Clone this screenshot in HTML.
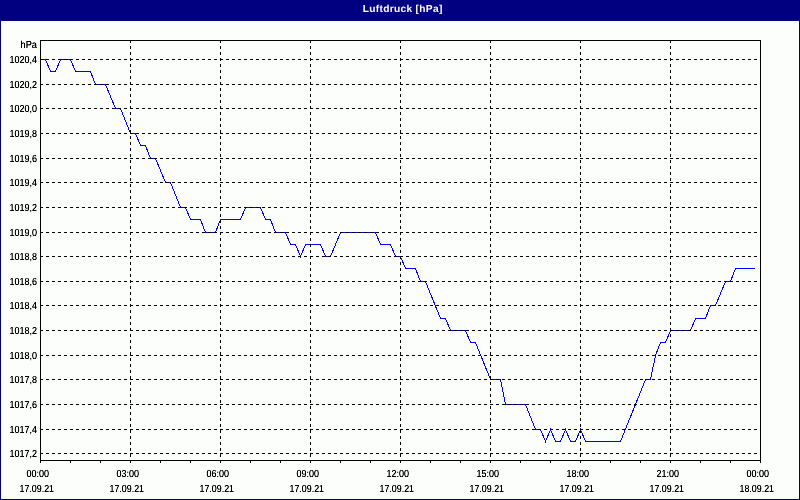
<!DOCTYPE html>
<html><head><meta charset="utf-8"><style>
html,body{margin:0;padding:0;background:#fff;}
svg{display:block;will-change:transform;}
text{text-rendering:geometricPrecision;font-family:"Liberation Sans",sans-serif;font-size:10.2px;fill:#000;stroke:none;}
</style></head><body>
<svg width="800" height="500" viewBox="0 0 800 500">
<rect x="0" y="0" width="800" height="500" fill="#000080"/>
<rect x="1" y="21" width="798" height="478" fill="#fcfefc"/>

<g shape-rendering="crispEdges">
<polyline points="40.5,59.5 45.5,59.5 50.5,71.5 55.5,71.5 60.5,59.5 70.5,59.5 75.5,71.5 90.5,71.5 95.5,84.5 105.5,84.5 115.5,108.5 120.5,108.5 130.5,133.5 135.5,133.5 140.5,145.5 145.5,145.5 150.5,158.5 155.5,158.5 165.5,182.5 170.5,182.5 180.5,207.5 185.5,207.5 190.5,219.5 200.5,219.5 205.5,232.5 215.5,232.5 220.5,219.5 240.5,219.5 245.5,207.5 260.5,207.5 265.5,219.5 270.5,219.5 275.5,232.5 285.5,232.5 290.5,244.5 295.5,244.5 300.5,256.5 305.5,244.5 320.5,244.5 325.5,256.5 330.5,256.5 340.5,232.5 375.5,232.5 380.5,244.5 390.5,244.5 395.5,256.5 400.5,256.5 405.5,268.5 415.5,268.5 420.5,281.5 425.5,281.5 440.5,318.5 445.5,318.5 450.5,330.5 465.5,330.5 470.5,342.5 475.5,342.5 490.5,379.5 500.5,379.5 505.5,404.5 525.5,404.5 535.5,429.5 540.5,429.5 545.5,441.5 550.5,429.5 555.5,441.5 560.5,441.5 565.5,429.5 570.5,441.5 575.5,441.5 580.5,429.5 585.5,441.5 620.5,441.5 645.5,379.5 650.5,379.5 655.5,355.5 660.5,342.5 665.5,342.5 670.5,330.5 690.5,330.5 695.5,318.5 705.5,318.5 710.5,305.5 715.5,305.5 725.5,281.5 730.5,281.5 735.5,268.5 755,268.5" fill="none" stroke="#0000ff" stroke-width="1"/>
<g stroke="#000" stroke-width="1" stroke-dasharray="3 3"><line x1="40" y1="59.5" x2="760" y2="59.5"/><line x1="40" y1="84.5" x2="760" y2="84.5"/><line x1="40" y1="108.5" x2="760" y2="108.5"/><line x1="40" y1="133.5" x2="760" y2="133.5"/><line x1="40" y1="158.5" x2="760" y2="158.5"/><line x1="40" y1="182.5" x2="760" y2="182.5"/><line x1="40" y1="207.5" x2="760" y2="207.5"/><line x1="40" y1="232.5" x2="760" y2="232.5"/><line x1="40" y1="256.5" x2="760" y2="256.5"/><line x1="40" y1="281.5" x2="760" y2="281.5"/><line x1="40" y1="305.5" x2="760" y2="305.5"/><line x1="40" y1="330.5" x2="760" y2="330.5"/><line x1="40" y1="355.5" x2="760" y2="355.5"/><line x1="40" y1="379.5" x2="760" y2="379.5"/><line x1="40" y1="404.5" x2="760" y2="404.5"/><line x1="40" y1="429.5" x2="760" y2="429.5"/><line x1="40" y1="453.5" x2="760" y2="453.5"/><line x1="130.5" y1="40" x2="130.5" y2="460"/><line x1="220.5" y1="40" x2="220.5" y2="460"/><line x1="310.5" y1="40" x2="310.5" y2="460"/><line x1="400.5" y1="40" x2="400.5" y2="460"/><line x1="490.5" y1="40" x2="490.5" y2="460"/><line x1="580.5" y1="40" x2="580.5" y2="460"/><line x1="670.5" y1="40" x2="670.5" y2="460"/></g>
<rect x="40.5" y="40.5" width="720" height="420" fill="none" stroke="#000" stroke-width="1"/>
<g stroke="#000" stroke-width="1"><line x1="40.5" y1="460" x2="40.5" y2="463"/><line x1="70.5" y1="460" x2="70.5" y2="463"/><line x1="100.5" y1="460" x2="100.5" y2="463"/><line x1="130.5" y1="460" x2="130.5" y2="463"/><line x1="160.5" y1="460" x2="160.5" y2="463"/><line x1="190.5" y1="460" x2="190.5" y2="463"/><line x1="220.5" y1="460" x2="220.5" y2="463"/><line x1="250.5" y1="460" x2="250.5" y2="463"/><line x1="280.5" y1="460" x2="280.5" y2="463"/><line x1="310.5" y1="460" x2="310.5" y2="463"/><line x1="340.5" y1="460" x2="340.5" y2="463"/><line x1="370.5" y1="460" x2="370.5" y2="463"/><line x1="400.5" y1="460" x2="400.5" y2="463"/><line x1="430.5" y1="460" x2="430.5" y2="463"/><line x1="460.5" y1="460" x2="460.5" y2="463"/><line x1="490.5" y1="460" x2="490.5" y2="463"/><line x1="520.5" y1="460" x2="520.5" y2="463"/><line x1="550.5" y1="460" x2="550.5" y2="463"/><line x1="580.5" y1="460" x2="580.5" y2="463"/><line x1="610.5" y1="460" x2="610.5" y2="463"/><line x1="640.5" y1="460" x2="640.5" y2="463"/><line x1="670.5" y1="460" x2="670.5" y2="463"/><line x1="700.5" y1="460" x2="700.5" y2="463"/><line x1="730.5" y1="460" x2="730.5" y2="463"/><line x1="760.5" y1="460" x2="760.5" y2="463"/></g>
</g>
<defs><filter id="cr" filterUnits="userSpaceOnUse" x="0" y="0" width="800" height="500" color-interpolation-filters="sRGB"><feComponentTransfer><feFuncA type="linear" slope="1.4" intercept="0"/></feComponentTransfer></filter></defs>
<text x="362.8" y="12" textLength="79.5" lengthAdjust="spacing" style="font-weight:bold;font-size:10.2px;fill:#fff;stroke:none">Luftdruck [hPa]</text>
<g filter="url(#cr)">

<text x="20.5" y="48" textLength="16.5" lengthAdjust="spacingAndGlyphs">hPa</text>
<text x="9.5" y="63" textLength="27.5" lengthAdjust="spacingAndGlyphs">1020,4</text><text x="9.5" y="88" textLength="27.5" lengthAdjust="spacingAndGlyphs">1020,2</text><text x="9.5" y="112" textLength="27.5" lengthAdjust="spacingAndGlyphs">1020,0</text><text x="9.5" y="137" textLength="27.5" lengthAdjust="spacingAndGlyphs">1019,8</text><text x="9.5" y="162" textLength="27.5" lengthAdjust="spacingAndGlyphs">1019,6</text><text x="9.5" y="186" textLength="27.5" lengthAdjust="spacingAndGlyphs">1019,4</text><text x="9.5" y="211" textLength="27.5" lengthAdjust="spacingAndGlyphs">1019,2</text><text x="9.5" y="236" textLength="27.5" lengthAdjust="spacingAndGlyphs">1019,0</text><text x="9.5" y="260" textLength="27.5" lengthAdjust="spacingAndGlyphs">1018,8</text><text x="9.5" y="285" textLength="27.5" lengthAdjust="spacingAndGlyphs">1018,6</text><text x="9.5" y="309" textLength="27.5" lengthAdjust="spacingAndGlyphs">1018,4</text><text x="9.5" y="334" textLength="27.5" lengthAdjust="spacingAndGlyphs">1018,2</text><text x="9.5" y="359" textLength="27.5" lengthAdjust="spacingAndGlyphs">1018,0</text><text x="9.5" y="383" textLength="27.5" lengthAdjust="spacingAndGlyphs">1017,8</text><text x="9.5" y="408" textLength="27.5" lengthAdjust="spacingAndGlyphs">1017,6</text><text x="9.5" y="433" textLength="27.5" lengthAdjust="spacingAndGlyphs">1017,4</text><text x="9.5" y="457" textLength="27.5" lengthAdjust="spacingAndGlyphs">1017,2</text>
<text x="26.5" y="477" textLength="22.5" lengthAdjust="spacingAndGlyphs">00:00</text><text x="19.5" y="492" textLength="34.5" lengthAdjust="spacingAndGlyphs">17.09.21</text><text x="116.5" y="477" textLength="22.5" lengthAdjust="spacingAndGlyphs">03:00</text><text x="109.5" y="492" textLength="34.5" lengthAdjust="spacingAndGlyphs">17.09.21</text><text x="206.5" y="477" textLength="22.5" lengthAdjust="spacingAndGlyphs">06:00</text><text x="199.5" y="492" textLength="34.5" lengthAdjust="spacingAndGlyphs">17.09.21</text><text x="296.5" y="477" textLength="22.5" lengthAdjust="spacingAndGlyphs">09:00</text><text x="289.5" y="492" textLength="34.5" lengthAdjust="spacingAndGlyphs">17.09.21</text><text x="386.5" y="477" textLength="22.5" lengthAdjust="spacingAndGlyphs">12:00</text><text x="379.5" y="492" textLength="34.5" lengthAdjust="spacingAndGlyphs">17.09.21</text><text x="476.5" y="477" textLength="22.5" lengthAdjust="spacingAndGlyphs">15:00</text><text x="469.5" y="492" textLength="34.5" lengthAdjust="spacingAndGlyphs">17.09.21</text><text x="566.5" y="477" textLength="22.5" lengthAdjust="spacingAndGlyphs">18:00</text><text x="559.5" y="492" textLength="34.5" lengthAdjust="spacingAndGlyphs">17.09.21</text><text x="656.5" y="477" textLength="22.5" lengthAdjust="spacingAndGlyphs">21:00</text><text x="649.5" y="492" textLength="34.5" lengthAdjust="spacingAndGlyphs">17.09.21</text><text x="746.5" y="477" textLength="22.5" lengthAdjust="spacingAndGlyphs">00:00</text><text x="739.5" y="492" textLength="34.5" lengthAdjust="spacingAndGlyphs">18.09.21</text>
</g>
</svg>
</body></html>
